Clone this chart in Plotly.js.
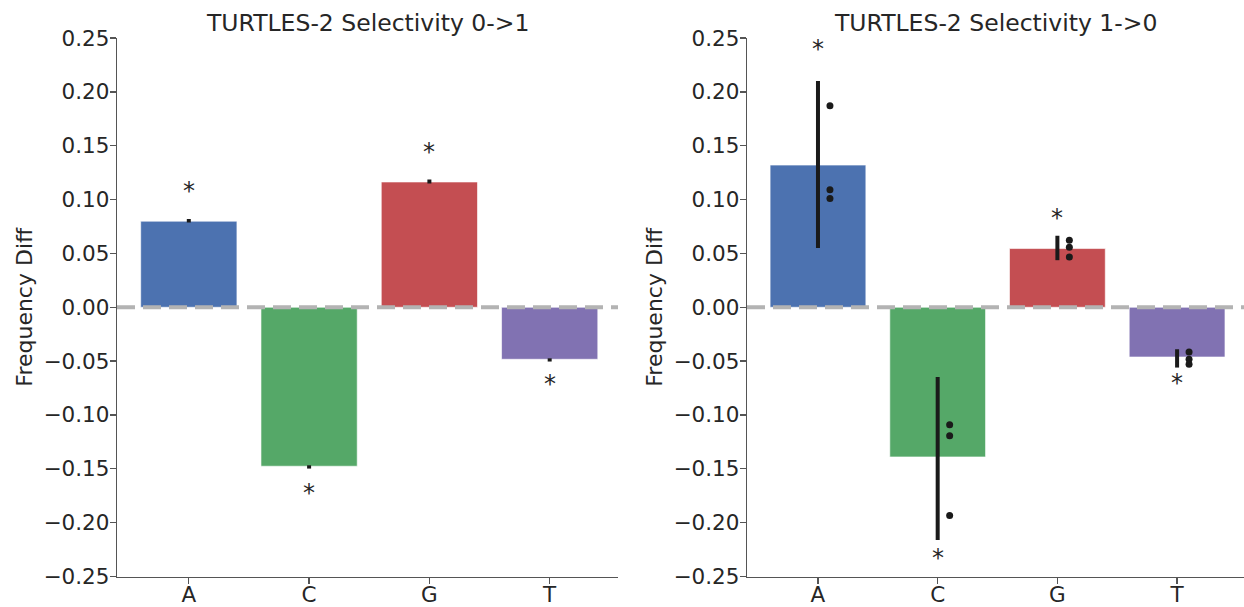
<!DOCTYPE html>
<html>
<head>
<meta charset="utf-8">
<script src="https://cdn.plot.ly/plotly-3.0.1.min.js"></script>
<style>
  html, body { margin: 0; padding: 0; background: #ffffff; }
  #chart { width: 1244px; height: 607px; }
</style>
</head>
<body>
<div id="chart"></div>
<script>
// ---- Data ----
const categories = ['A', 'C', 'G', 'T'];
const barColors = ['#4C72B0', '#55A868', '#C44E52', '#8172B2'];

// Left panel: TURTLES-2 Selectivity 0->1
const leftTitle = 'TURTLES-2 Selectivity 0->1';
const leftValues = [0.0799, -0.1476, 0.1163, -0.0483];
const leftErrHigh = [0.0820, -0.1467, 0.1186, -0.0474];
const leftErrLow = [0.0786, -0.1498, 0.1149, -0.0504];
const leftStarY = [0.1117, -0.169, 0.1476, -0.0678];

// Right panel: TURTLES-2 Selectivity 1->0
const rightTitle = 'TURTLES-2 Selectivity 1->0';
const rightValues = [0.132, -0.139, 0.0545, -0.0462];
const rightErrHigh = [0.210, -0.0648, 0.0663, -0.039];
const rightErrLow = [0.055, -0.216, 0.0437, -0.056];
const rightPointsA = [0.187, 0.109, 0.101];
const rightPointsC = [-0.109, -0.1193, -0.1933];
const rightPointsG = [0.0623, 0.0558, 0.0467];
const rightPointsT = [-0.0415, -0.0483, -0.053];
const rightStarY = [0.2435, -0.229, 0.0864, -0.0663];

const yTickVals = [-0.25, -0.20, -0.15, -0.10, -0.05, 0.00, 0.05, 0.10, 0.15, 0.20, 0.25];
const yLabel = 'Frequency Diff';

// ---- Build traces ----
const idx = categories.map((c, i) => i);
const FONT = 'DejaVu Sans, sans-serif';
const INK = '#1a1a1a';
const TXT = '#262626';

function barTrace(values, hi, lo, xa, ya) {
  return {
    type: 'bar', x: idx, y: values, width: 0.8,
    xaxis: xa, yaxis: ya,
    marker: { color: barColors, line: { color: 'rgba(255,255,255,0.6)', width: 1 } },
    error_y: {
      type: 'data', symmetric: false,
      array: hi.map((h, i) => h - values[i]),
      arrayminus: values.map((v, i) => v - lo[i]),
      color: INK, thickness: 4, width: 0
    },
    hoverinfo: 'skip', showlegend: false
  };
}

const rightPoints = [rightPointsA, rightPointsC, rightPointsG, rightPointsT];
const ptX = [], ptY = [];
rightPoints.forEach((pts, i) => pts.forEach(p => { ptX.push(i + 0.1); ptY.push(p); }));

const traces = [
  barTrace(leftValues, leftErrHigh, leftErrLow, 'x', 'y'),
  barTrace(rightValues, rightErrHigh, rightErrLow, 'x2', 'y2'),
  {
    type: 'scatter', mode: 'markers', x: ptX, y: ptY, xaxis: 'x2', yaxis: 'y2',
    marker: { color: INK, size: 7 }, hoverinfo: 'skip', showlegend: false
  }
];

// ---- Annotations: asterisks, titles ----
const annotations = [];
function stars(ys, xr, yr) {
  ys.forEach((y, i) => annotations.push({
    x: i, y: y, xref: xr, yref: yr, text: '*', showarrow: false,
    xanchor: 'center', yanchor: 'middle', yshift: -4,
    font: { family: FONT, size: 24, color: TXT }
  }));
}
stars(leftStarY, 'x', 'y');
stars(rightStarY, 'x2', 'y2');

const xDomL = [117 / 1244, 618 / 1244];
const xDomR = [747 / 1244, 1];
const yDom = [(607 - 576.5) / 607, (607 - 38) / 607];

function titleAnn(text, xdom) {
  return {
    text: text, xref: 'paper', yref: 'paper',
    x: (xdom[0] + xdom[1]) / 2, y: 1 - 23 / 607,
    xanchor: 'center', yanchor: 'middle', showarrow: false,
    font: { family: FONT, size: 23.5, color: TXT }
  };
}
annotations.push(titleAnn(leftTitle, xDomL));
annotations.push(titleAnn(rightTitle, xDomR));

function yAxis(anchor) {
  return {
    domain: yDom, anchor: anchor, range: [-0.25, 0.25],
    tickmode: 'array', tickvals: yTickVals,
    ticktext: yTickVals.map(v => (v < 0 ? '\u2212' : '') + Math.abs(v).toFixed(2)),
    ticks: 'outside', ticklen: 6, tickwidth: 1.3, tickcolor: '#555',
    ticklabelstandoff: -4,
    showline: true, linecolor: '#555', linewidth: 1.3,
    showgrid: false, zeroline: false,
    tickfont: { family: FONT, size: 21.5, color: TXT },
    title: { text: yLabel, font: { family: FONT, size: 22, color: TXT }, standoff: 4 },
    fixedrange: true
  };
}
function xAxis(dom, range, anchor) {
  return {
    domain: dom, anchor: anchor, range: range,
    tickmode: 'array', tickvals: idx, ticktext: categories,
    ticks: 'outside', ticklen: 6, tickwidth: 1.3, tickcolor: '#555',
    ticklabelstandoff: -8,
    showline: true, linecolor: '#555', linewidth: 1.3,
    showgrid: false, zeroline: false,
    tickfont: { family: FONT, size: 21.5, color: TXT },
    fixedrange: true
  };
}

const zeroLine = (xr, yr) => ({
  type: 'line', xref: xr + ' domain', yref: yr, x0: 0, x1: 1, y0: 0, y1: 0,
  line: { color: '#b3b3b3', width: 4, dash: '18px,8px' }, layer: 'above'
});

const layout = {
  width: 1244, height: 607,
  margin: { l: 0, r: 0, t: 0, b: 0 },
  paper_bgcolor: '#ffffff', plot_bgcolor: '#ffffff',
  font: { family: FONT, color: TXT },
  bargap: 0.2,
  xaxis: xAxis(xDomL, [-0.597, 3.568], 'y'),
  yaxis: yAxis('x'),
  xaxis2: xAxis(xDomR, [-0.593, 3.559], 'y2'),
  yaxis2: yAxis('x2'),
  shapes: [zeroLine('x', 'y'), zeroLine('x2', 'y2')],
  annotations: annotations,
  showlegend: false
};

Plotly.newPlot('chart', traces, layout, { displayModeBar: false, staticPlot: true });
</script>
</body>
</html>
